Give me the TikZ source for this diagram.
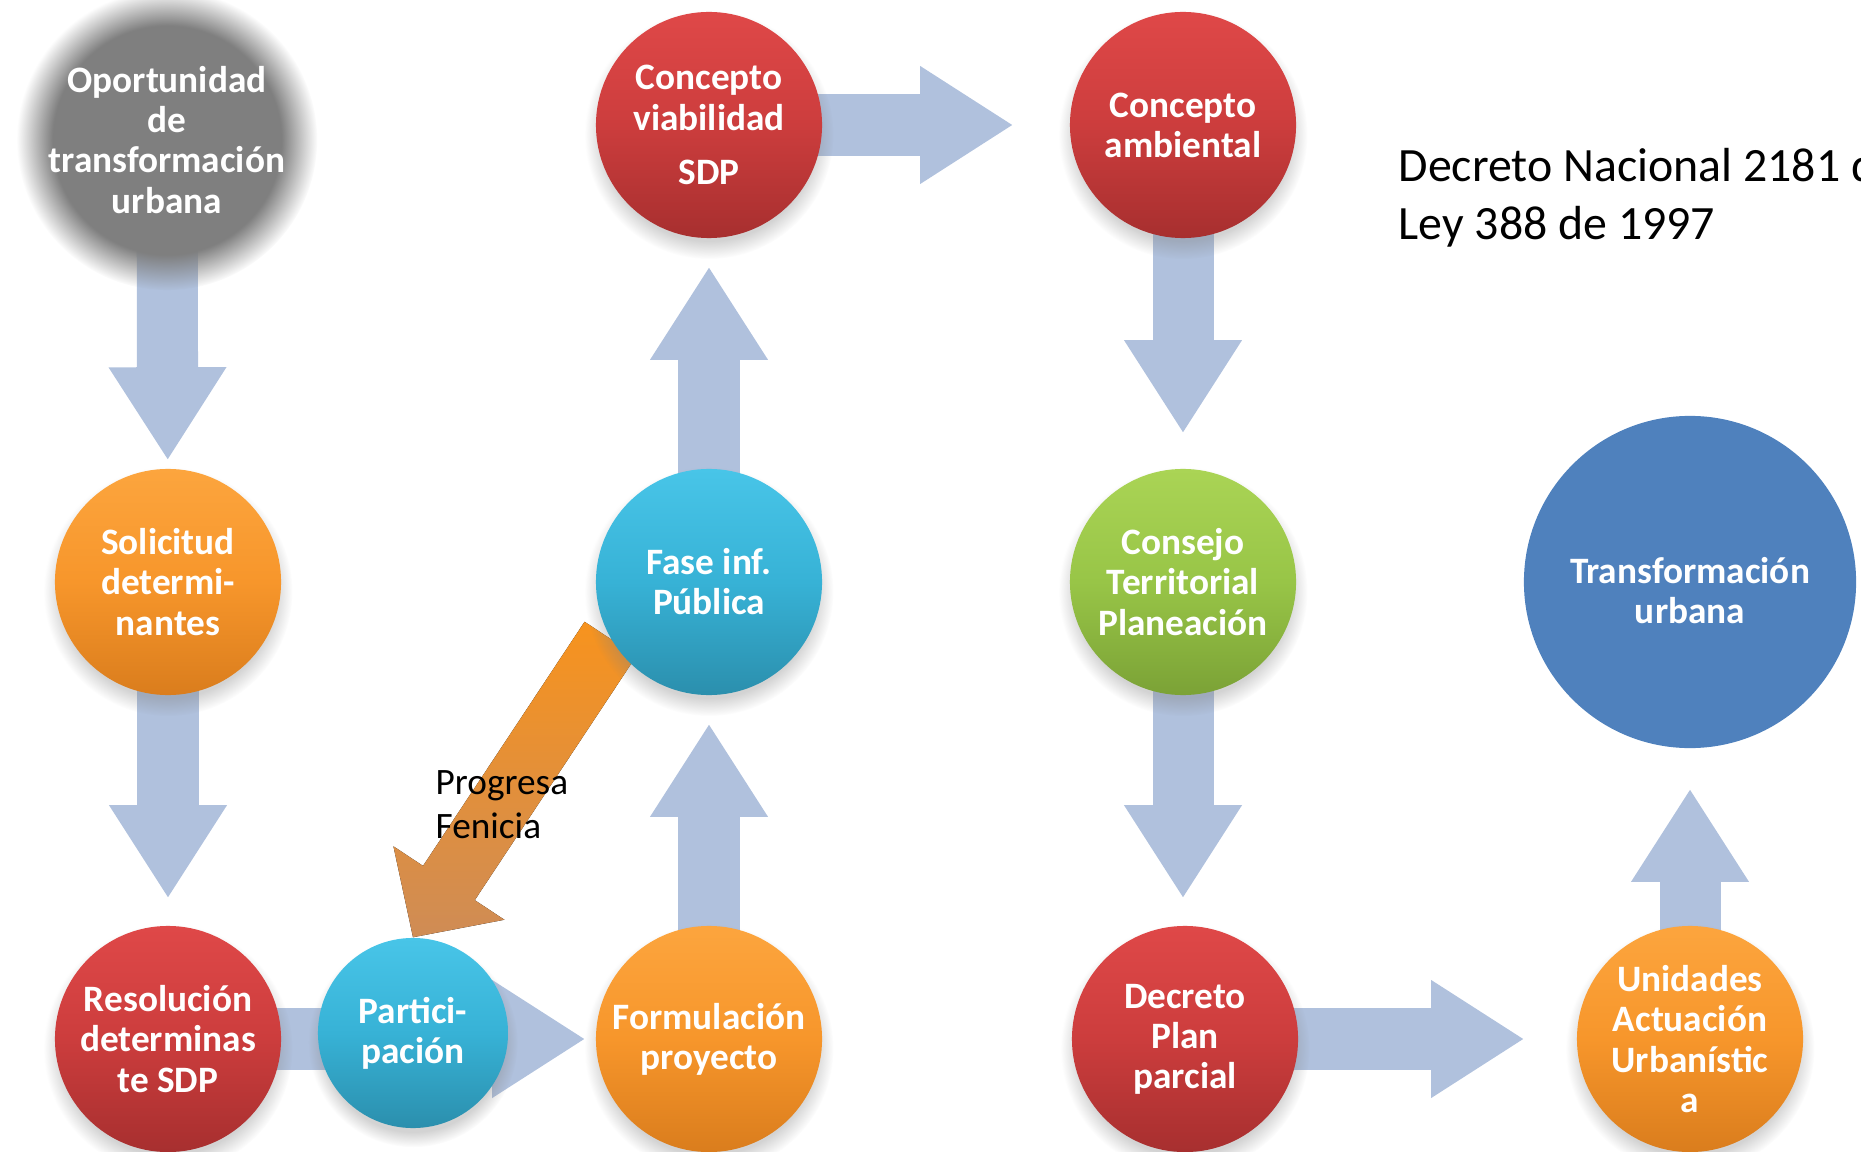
\documentclass[tikz,border=0pt]{standalone}
\usepackage{fontspec}
\setmainfont{Carlito}
\usetikzlibrary{arrows.meta,calc,positioning,shadows,fadings}

\definecolor{azulflecha}{RGB}{176,193,221}
\definecolor{grisdisco}{RGB}{127,127,127}
\definecolor{rojoA}{HTML}{DF4848}
\definecolor{rojoM}{HTML}{CC3D3D}
\definecolor{rojoB}{HTML}{A72F2F}
\definecolor{naranjaA}{HTML}{FCA53E}
\definecolor{naranjaM}{HTML}{F7962B}
\definecolor{naranjaB}{HTML}{DA7D1D}
\definecolor{celesteA}{HTML}{48C5E8}
\definecolor{celesteM}{HTML}{37B2D6}
\definecolor{celesteB}{HTML}{2B8FAD}
\definecolor{verdeA}{HTML}{AAD455}
\definecolor{verdeM}{HTML}{98C547}
\definecolor{verdeB}{HTML}{7BA236}
\definecolor{azulplano}{HTML}{4F81BD}
\definecolor{naranjaflecha}{HTML}{F7931E}
\definecolor{tostado}{HTML}{CF8C55}

\pgfdeclarelayer{fondo}
\pgfsetlayers{fondo,main}

\pgfdeclareradialshading{difusosombra}{\pgfpointorigin}{color(0bp)=(pgftransparent!0); color(19bp)=(pgftransparent!0); color(25bp)=(pgftransparent!100); color(50bp)=(pgftransparent!100)}
\pgfdeclarefading{difuso}{\pgfuseshading{difusosombra}}

\tikzset{
  burbuja/.style={circle, minimum size=2.26cm, inner sep=0pt, align=center, text=white,
    font=\fontsize{10.6}{11.4}\selectfont\bfseries,
    circular drop shadow={shadow xshift=0pt, shadow yshift=-2.5pt, opacity=0.35}},
  roja/.style={burbuja, top color=rojoA, bottom color=rojoB, middle color=rojoM},
  naranja/.style={burbuja, top color=naranjaA, bottom color=naranjaB, middle color=naranjaM},
  celeste/.style={burbuja, top color=celesteA, bottom color=celesteB, middle color=celesteM},
  verde/.style={burbuja, top color=verdeA, bottom color=verdeB, middle color=verdeM},
  plana/.style={circle, minimum size=3.32cm, inner sep=0pt, fill=azulplano},
  textoblanco/.style={align=center, text=white, inner sep=0pt,
    font=\fontsize{10.6}{11.4}\selectfont\bfseries},
  difusa/.style={circle, minimum size=3cm, inner sep=0pt, align=center, text=white,
    font=\fontsize{10.6}{11.4}\selectfont\bfseries, fill=grisdisco, path fading=difuso},
  flecha/.style={line width=0.61cm, draw=azulflecha,
    -{Triangle[width=1.18cm, length=0.92cm, line width=0pt]}},
  flechanaranja/.style={top color=naranjaflecha, bottom color=tostado, draw=none},
  etiqueta/.style={align=left, font=\fontsize{10.6}{12.6}\selectfont, inner sep=0pt},
  nota/.style={align=left, font=\fontsize{13.6}{16.6}\selectfont, inner sep=0pt}
}

\begin{document}
\begin{tikzpicture}[x=0.01cm, y=-0.01cm]
  \useasboundingbox (0,0) rectangle (1861,1152);

  \node[difusa] (opo) at (167,140) {Oportunidad\\de\\transformación\\urbana};
  \node[roja] (cvia) at (709,125) {Concepto\\viabilidad\\[4pt]SDP};
  \node[roja] (camb) at (1183,125) {Concepto\\ambiental};

  \node[naranja] (sol) at (168,582) {Solicitud\\determi-\\nantes};
  \node[celeste] (fase) at (709,582) {Fase inf.\\Pública};
  \node[verde] (con) at (1183,582) {Consejo\\Territorial\\Planeación};
  \node[plana] (tra) at (1690,582) {};
  \node[textoblanco] (tratexto) at ([yshift=-0.09cm]tra.center) {Transformación\\urbana};

  \node[roja] (res) at (168,1039) {Resolución\\determinas\\te SDP};
  \node[celeste, minimum size=1.9cm] (par) at (413,1033) {Partici-\\pación};
  \node[naranja] (for) at (709,1039) {Formulación\\proyecto};
  \node[roja] (dec) at (1185,1039) {Decreto\\Plan\\parcial};
  \node[naranja] (uni) at (1690,1039) {Unidades\\Actuación\\Urbanístic\\a};

  \node[nota, anchor=west] (ley) at (1398,198) {Decreto Nacional 2181 d\\Ley 388 de 1997};

  \begin{pgfonlayer}{fondo}
    \draw[flecha, shorten >=0.09cm] (opo.center) -- (sol);
    \draw[flecha, shorten >=0.28cm] (sol.center) -- (res);
    \draw[flecha, shorten >=0.11cm] (res.center) -- (for);
    \draw[flecha, shorten >=0.29cm] (for.center) -- (fase);
    \draw[flecha, shorten >=0.29cm] (fase.center) -- (cvia);
    \draw[flecha, shorten >=0.57cm] (cvia.center) -- (camb);
    \draw[flecha, shorten >=0.36cm] (camb.center) -- (con);
    \draw[flecha, shorten >=0.28cm] (con.center) -- (con.center |- dec.north);
    \draw[flecha, shorten >=0.53cm] (dec.center) -- (uni);
    \draw[flecha, shorten >=0.41cm] (uni.center) -- (tra);

    \coordinate (cuello) at ($(par.north)!0.65cm!(fase.210)$);
    \fill[flechanaranja] ($(fase.210)!0.31cm!90:(par.north)$)
      -- ($(cuello)!0.31cm!90:(par.north)$) -- ($(cuello)!0.665cm!90:(par.north)$)
      -- (par.north)
      -- ($(cuello)!0.665cm!-90:(par.north)$) -- ($(cuello)!0.31cm!-90:(par.north)$)
      -- ($(fase.210)!0.31cm!-90:(par.north)$) -- cycle;
  \end{pgfonlayer}

  \node[etiqueta, anchor=west] (fenicia) at (435,805) {Progresa\\Fenicia};
\end{tikzpicture}
\end{document}
